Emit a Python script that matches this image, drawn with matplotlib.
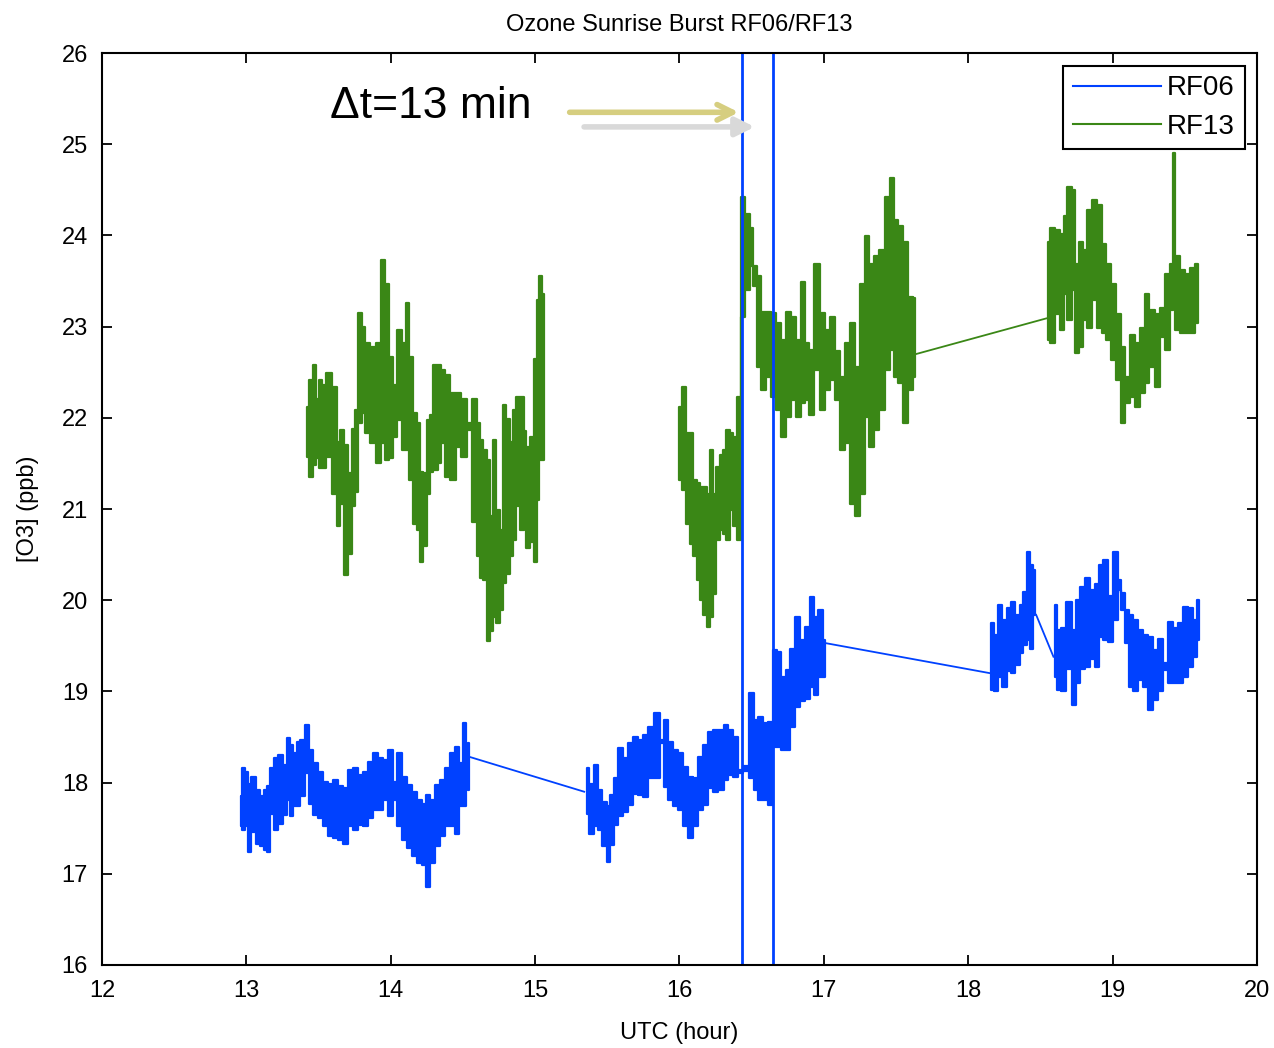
import matplotlib
matplotlib.use("Agg")
import matplotlib.pyplot as plt

plt.rcParams['font.family'] = ['Liberation Sans', 'DejaVu Sans']

# colours close to the old matlab defaults in the picture
blue = '#0041FF'
green = '#3A8716'

# RF06, first leg (UTC hour, upper and lower edge of the noisy trace, ppb)
rf06_a_t = [12.96, 12.98, 13.00, 13.02, 13.05, 13.08, 13.11, 13.13, 13.15, 13.18,
            13.20, 13.24, 13.27, 13.29, 13.31, 13.34, 13.36, 13.39, 13.42, 13.45,
            13.48, 13.51, 13.55, 13.58, 13.62, 13.65, 13.69, 13.72, 13.76, 13.79,
            13.83, 13.86, 13.90, 13.93, 13.96, 14.00, 14.03, 14.06, 14.09, 14.13,
            14.16, 14.20, 14.23, 14.26, 14.29, 14.32, 14.36, 14.39, 14.43, 14.46,
            14.49, 14.51, 14.53, 14.54]
rf06_a_hi = [17.85, 18.16, 18.12, 17.99, 18.06, 17.92, 17.85, 17.92, 17.96, 18.16,
             18.27, 18.30, 18.19, 18.49, 18.41, 18.32, 18.45, 18.47, 18.63, 18.36,
             18.21, 18.12, 18.01, 17.99, 18.03, 17.96, 17.94, 18.14, 18.16, 18.08,
             18.12, 18.23, 18.32, 18.27, 18.25, 18.36, 18.01, 18.32, 18.06, 17.97,
             17.90, 17.81, 17.77, 17.86, 17.81, 17.97, 18.03, 18.16, 18.32, 18.39,
             18.21, 18.65, 18.16, 18.43]
rf06_a_lo = [17.52, 17.48, 17.52, 17.24, 17.46, 17.33, 17.30, 17.26, 17.24, 17.66,
             17.48, 17.55, 17.65, 17.81, 17.63, 17.74, 17.74, 17.85, 18.10, 17.77,
             17.65, 17.61, 17.52, 17.41, 17.39, 17.37, 17.33, 17.52, 17.48, 17.54,
             17.52, 17.61, 17.70, 17.70, 17.81, 17.63, 17.81, 17.52, 17.37, 17.28,
             17.19, 17.12, 17.10, 16.86, 17.12, 17.30, 17.41, 17.52, 17.52, 17.44,
             17.74, 17.74, 18.12, 17.92]

# RF06, second leg
rf06_b_t = [15.36, 15.39, 15.42, 15.45, 15.48, 15.51, 15.53, 15.56, 15.59, 15.63,
            15.66, 15.70, 15.73, 15.77, 15.80, 15.85, 15.88, 15.90, 15.94, 15.97,
            16.01, 16.04, 16.08, 16.11, 16.15, 16.18, 16.22, 16.25, 16.29, 16.32,
            16.35, 16.39, 16.42, 16.46, 16.50, 16.53, 16.56, 16.60, 16.63, 16.66,
            16.69, 16.72, 16.75, 16.78, 16.82, 16.85, 16.89, 16.92, 16.94, 16.98,
            17.01]
rf06_b_hi = [18.16, 17.99, 18.19, 17.92, 17.79, 17.74, 17.86, 18.05, 18.38, 18.27,
             18.43, 18.50, 18.47, 18.52, 18.61, 18.76, 18.47, 18.69, 18.45, 18.36,
             18.32, 18.17, 18.06, 18.05, 18.28, 18.41, 18.56, 18.58, 18.58, 18.63,
             18.58, 18.50, 18.14, 18.18, 18.98, 18.69, 18.72, 18.65, 18.67, 19.45,
             19.43, 19.16, 19.23, 19.47, 19.82, 19.56, 19.71, 20.04, 19.82, 19.89,
             19.56]
rf06_b_lo = [17.66, 17.44, 17.52, 17.48, 17.30, 17.13, 17.32, 17.53, 17.63, 17.68,
             17.75, 17.88, 17.86, 17.84, 18.05, 18.05, 18.43, 17.95, 17.81, 17.74,
             17.70, 17.52, 17.39, 17.52, 17.70, 17.75, 17.94, 17.90, 17.92, 18.03,
             18.08, 18.06, 18.10, 18.13, 18.05, 17.92, 17.81, 17.81, 17.75, 18.39,
             18.39, 18.36, 18.36, 18.61, 18.83, 18.89, 18.92, 19.05, 18.96, 19.16,
             19.16]

# RF06, third leg (before the short dropout)
rf06_c_t = [18.16, 18.19, 18.22, 18.25, 18.28, 18.31, 18.34, 18.37, 18.39, 18.42,
            18.44, 18.46]
rf06_c_hi = [19.75, 19.62, 19.95, 19.78, 19.91, 19.98, 19.84, 19.95, 20.09, 20.53,
             20.39, 20.33]
rf06_c_lo = [19.02, 19.00, 19.16, 19.05, 19.22, 19.20, 19.29, 19.42, 19.51, 19.56,
             19.47, 19.84]

# RF06, last leg
rf06_d_t = [18.60, 18.63, 18.66, 18.70, 18.73, 18.76, 18.79, 18.82, 18.86, 18.89,
            18.92, 18.95, 18.99, 19.02, 19.05, 19.07, 19.10, 19.12, 19.16, 19.19,
            19.23, 19.26, 19.30, 19.33, 19.37, 19.40, 19.44, 19.47, 19.50, 19.54,
            19.57, 19.60]
rf06_d_hi = [19.95, 19.67, 19.69, 19.98, 19.67, 20.00, 20.15, 20.24, 20.11, 20.18,
             20.39, 20.44, 20.05, 20.53, 20.22, 20.08, 19.89, 19.84, 19.78, 19.67,
             19.62, 19.60, 19.45, 19.58, 19.31, 19.76, 19.69, 19.75, 19.93, 19.91,
             19.78, 20.00]
rf06_d_lo = [19.16, 19.02, 19.00, 19.25, 18.85, 19.09, 19.25, 19.27, 19.36, 19.27,
             19.60, 19.56, 19.54, 19.78, 20.11, 19.89, 19.53, 19.05, 19.00, 19.13,
             19.05, 18.80, 18.91, 19.00, 19.23, 19.09, 19.09, 19.09, 19.16, 19.27,
             19.38, 19.56]

# straight segments where RF06 has no data
rf06_gap_t = [[14.55, 15.34], [17.01, 18.15], [18.47, 18.59]]
rf06_gap_v = [[18.28, 17.90], [19.53, 19.20], [19.84, 19.38]]

# RF13, first leg
rf13_a_t = [13.42, 13.45, 13.47, 13.49, 13.51, 13.54, 13.57, 13.61, 13.64, 13.66,
            13.69, 13.72, 13.74, 13.76, 13.79, 13.81, 13.84, 13.88, 13.91, 13.95,
            13.97, 14.00, 14.03, 14.06, 14.09, 14.12, 14.14, 14.17, 14.19, 14.21,
            14.24, 14.26, 14.28, 14.31, 14.34, 14.36, 14.39, 14.43, 14.47, 14.51,
            14.54, 14.58, 14.61, 14.63, 14.65, 14.68, 14.70, 14.72, 14.74, 14.77,
            14.79, 14.81, 14.84, 14.86, 14.88, 14.91, 14.93, 14.95, 14.98, 15.00,
            15.02, 15.04, 15.06]
rf13_a_hi = [22.12, 22.41, 22.58, 22.21, 22.41, 22.36, 22.49, 22.34, 21.74, 21.87,
             21.70, 21.39, 21.88, 22.09, 23.15, 23.00, 22.82, 22.78, 22.82, 23.73,
             23.47, 22.67, 22.36, 22.96, 22.82, 23.26, 22.67, 22.05, 21.94, 21.41,
             21.39, 21.98, 22.03, 22.58, 22.58, 22.52, 22.47, 22.27, 22.27, 22.21,
             21.94, 22.21, 21.94, 21.76, 21.65, 21.54, 20.92, 21.76, 20.99, 20.77,
             22.14, 21.99, 21.74, 22.09, 22.23, 22.23, 21.85, 21.68, 21.79, 22.65,
             23.29, 23.55, 23.36]
rf13_a_lo = [21.57, 21.35, 21.48, 21.56, 21.45, 21.45, 21.57, 21.17, 20.81, 21.06,
             20.28, 20.51, 21.03, 21.19, 21.94, 22.05, 21.83, 21.72, 21.50, 21.72,
             21.54, 21.56, 21.79, 21.98, 21.65, 21.65, 21.32, 20.84, 20.77, 20.42,
             20.59, 21.17, 21.41, 21.43, 21.50, 21.72, 21.35, 21.32, 21.68, 21.57,
             21.87, 20.86, 20.48, 20.24, 20.22, 19.55, 19.66, 19.82, 19.75, 19.89,
             20.19, 20.29, 20.48, 20.66, 21.03, 20.77, 20.81, 20.57, 20.64, 20.42,
             21.10, 21.54, 21.54]

# RF13, second leg
rf13_b_t = [16.00, 16.03, 16.06, 16.08, 16.11, 16.13, 16.15, 16.18, 16.20, 16.22,
            16.24, 16.27, 16.29, 16.31, 16.34, 16.36, 16.38, 16.41, 16.44, 16.47,
            16.50, 16.52, 16.55, 16.58, 16.62, 16.65, 16.69, 16.72, 16.76, 16.79,
            16.83, 16.86, 16.88, 16.92, 16.95, 16.99, 17.02, 17.06, 17.09, 17.13,
            17.16, 17.20, 17.23, 17.27, 17.30, 17.33, 17.37, 17.40, 17.44, 17.47,
            17.50, 17.53, 17.57, 17.60, 17.63]
rf13_b_hi = [22.12, 22.34, 21.83, 21.83, 21.32, 21.28, 21.24, 21.24, 21.17, 21.65,
             21.17, 21.46, 21.59, 21.65, 21.87, 21.83, 21.79, 22.23, 24.42, 24.24,
             24.08, 23.66, 23.55, 23.16, 23.16, 23.15, 23.04, 22.85, 23.16, 23.11,
             22.85, 23.49, 22.82, 22.74, 23.69, 23.15, 22.96, 23.11, 22.73, 22.45,
             22.82, 23.04, 22.56, 23.47, 23.99, 23.69, 23.77, 23.84, 24.42, 24.63,
             24.17, 24.10, 23.93, 23.33, 23.31]
rf13_b_lo = [21.32, 21.21, 20.84, 20.62, 20.48, 20.22, 20.00, 19.84, 19.71, 19.82,
             20.07, 20.66, 20.77, 20.73, 20.66, 20.99, 20.81, 20.66, 23.11, 23.40,
             23.66, 23.44, 22.56, 22.31, 22.45, 22.23, 22.09, 21.79, 22.01, 22.20,
             22.01, 22.16, 22.20, 22.03, 22.52, 22.09, 22.31, 22.41, 22.20, 21.65,
             21.72, 21.06, 20.92, 21.17, 22.01, 21.68, 21.87, 22.09, 22.52, 22.74,
             22.45, 22.38, 21.94, 22.31, 22.45]

# RF13, last leg
rf13_c_t = [18.55, 18.58, 18.62, 18.65, 18.67, 18.70, 18.73, 18.75, 18.78, 18.81,
            18.84, 18.87, 18.91, 18.94, 18.97, 19.01, 19.04, 19.07, 19.10, 19.14,
            19.17, 19.21, 19.24, 19.27, 19.31, 19.34, 19.38, 19.41, 19.42, 19.45,
            19.48, 19.52, 19.55, 19.59]
rf13_c_hi = [23.93, 24.08, 24.06, 24.02, 24.21, 24.53, 24.50, 23.69, 23.93, 23.84,
             24.28, 24.39, 24.33, 23.91, 23.69, 23.47, 23.14, 22.78, 22.45, 22.91,
             22.82, 22.99, 23.36, 23.18, 23.14, 23.20, 23.58, 23.69, 24.90, 23.77,
             23.62, 23.58, 23.64, 23.69]
rf13_c_lo = [22.85, 22.82, 23.14, 22.96, 23.36, 23.07, 23.40, 22.71, 22.78, 23.07,
             22.99, 23.29, 22.99, 22.93, 22.85, 22.63, 22.41, 21.94, 22.16, 22.23,
             22.12, 22.27, 22.38, 22.56, 22.34, 22.89, 22.74, 23.18, 23.40, 22.96,
             22.93, 22.93, 22.93, 23.04]

rf13_gap_t = [[17.64, 18.54]]
rf13_gap_v = [[22.70, 23.09]]

# sunrise burst times for the two flights (13 min apart)
burst_t = [16.43, 16.65]


def draw_flight(ax, legs, gap_t, gap_v, color):
    '''fills each leg between its upper and lower edge and joins the data gaps with lines'''
    for t, hi, lo in legs:
        ax.fill_between(t, lo, hi, step='mid', color=color, lw=1.6)
    for gt, gv in zip(gap_t, gap_v):
        ax.plot(gt, gv, color=color, lw=1.3)


fig = plt.figure(figsize=(12.74, 10.48), dpi=100)
ax = fig.add_subplot(111)
fig.subplots_adjust(left=0.080, right=0.9867, bottom=0.0792, top=0.9494)

draw_flight(ax, [(rf06_a_t, rf06_a_hi, rf06_a_lo), (rf06_b_t, rf06_b_hi, rf06_b_lo),
                 (rf06_c_t, rf06_c_hi, rf06_c_lo), (rf06_d_t, rf06_d_hi, rf06_d_lo)],
            rf06_gap_t, rf06_gap_v, blue)
draw_flight(ax, [(rf13_a_t, rf13_a_hi, rf13_a_lo), (rf13_b_t, rf13_b_hi, rf13_b_lo),
                 (rf13_c_t, rf13_c_hi, rf13_c_lo)],
            rf13_gap_t, rf13_gap_v, green)

for bt in burst_t:
    ax.axvline(bt, color=blue, lw=2)

# legend handles
ax.plot([], [], color=blue, lw=1.5, label='RF06')
ax.plot([], [], color=green, lw=1.5, label='RF13')
leg = ax.legend(loc='upper right', fontsize=20, handlelength=3.2, handletextpad=0.2,
                fancybox=False, framealpha=1, edgecolor='black', borderaxespad=0.45,
                labelspacing=0.45, borderpad=0.35)
leg.get_frame().set_linewidth(1.5)

# the delta t note with its two arrows
ax.text(13.58, 25.41, '\u0394t=13 min', fontsize=32, va='center', ha='left')
ax.annotate('', xy=(16.54, 25.19), xytext=(15.32, 25.19),
            arrowprops=dict(arrowstyle='-|>', lw=4, color='#D9D9D9', mutation_scale=28))
ax.annotate('', xy=(16.43, 25.35), xytext=(15.22, 25.35),
            arrowprops=dict(arrowstyle='->', lw=4, color='#D6CE80', mutation_scale=28))

ax.set_xlim(12, 20)
ax.set_ylim(16, 26)
ax.set_xticks(range(12, 21))
ax.set_yticks(range(16, 27))
ax.tick_params(direction='in', length=7, width=1.3, top=True, right=True, labelsize=17)
ax.tick_params(axis='x', pad=11)
ax.tick_params(axis='y', pad=10)
for sp in ax.spines.values():
    sp.set_linewidth(1.5)

ax.set_title('Ozone Sunrise Burst RF06/RF13', fontsize=17, pad=16)
ax.set_xlabel('UTC (hour)', fontsize=17, labelpad=14)
ax.set_ylabel('[O3] (ppb)', fontsize=17, labelpad=16)

plt.savefig('out.png', dpi=100)
